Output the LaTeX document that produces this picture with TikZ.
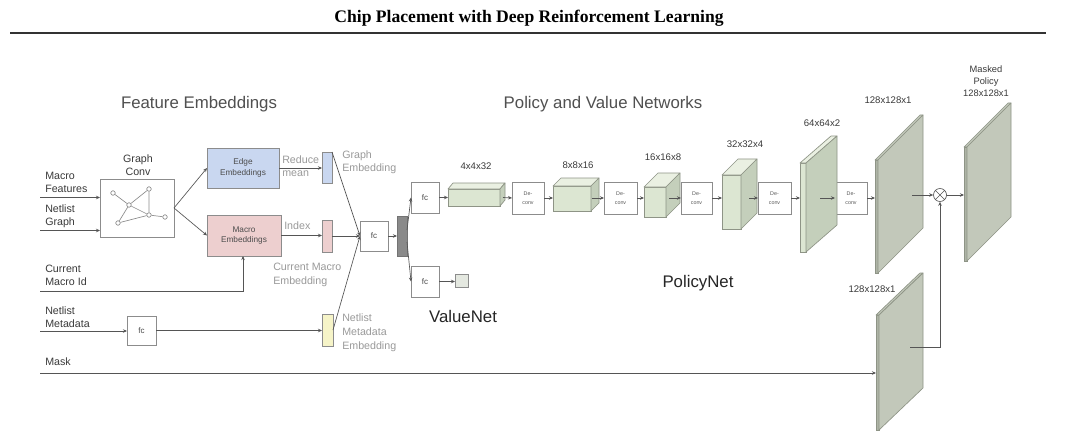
\documentclass[tikz,border=0pt]{standalone}
\usepackage{fontspec}
\setmainfont{Liberation Sans}
\newfontfamily\titlefont{Liberation Serif}
\usetikzlibrary{arrows.meta,calc}
\definecolor{boxc}{HTML}{8C8C8C}
\definecolor{linec}{HTML}{555555}
\definecolor{lblc}{HTML}{3A3A3A}
\definecolor{lightc}{HTML}{9A9A9A}
\definecolor{headc}{HTML}{505050}
\definecolor{edgeblue}{HTML}{C9D7F0}
\definecolor{macropink}{HTML}{EDCFCF}
\definecolor{metayellow}{HTML}{F6F4C8}
\definecolor{darkbar}{HTML}{8A8A8A}
\definecolor{prfront}{HTML}{DCE6D2}
\definecolor{prtop}{HTML}{EAF0E2}
\definecolor{prside}{HTML}{C4CFBB}
\definecolor{prborder}{HTML}{8E9486}
\definecolor{plside}{HTML}{C2C8BA}
\definecolor{plfront}{HTML}{AEB4A6}
\definecolor{vboxc}{HTML}{E4E8E0}
\tikzset{
  sz/.style 2 args={minimum width=#1*0.75pt, minimum height=#2*0.75pt},
  box/.style={draw=boxc, fill=white, line width=0.6pt, inner sep=0pt, outer sep=0pt, anchor=north west},
  bar/.style={draw=boxc, line width=0.5pt, inner sep=0pt, outer sep=0pt, anchor=north west},
  lbl/.style={inner sep=0pt, text=lblc, font=\fontsize{8}{9.75}\selectfont, align=left, anchor=north west},
  light/.style={lbl, text=lightc},
  head/.style={inner sep=0pt, text=headc, font=\fontsize{12.6}{15}\selectfont},
  net/.style={inner sep=0pt, text=black!85, font=\fontsize{12.6}{15}\selectfont},
  dim/.style={inner sep=0pt, text=lblc, font=\fontsize{7.2}{9}\selectfont, align=center},
  boxtxt/.style={font=\fontsize{6.2}{8.2}\selectfont, text=black!70, align=center},
  dctxt/.style={font=\fontsize{4}{6.5}\selectfont, text=black!65, align=center},
  fctxt/.style={font=\fontsize{6}{7}\selectfont, text=black!70},
  gnode/.style={circle, draw=boxc, fill=white, line width=0.5pt, inner sep=0pt, minimum size=4.5*0.75pt},
  gedge/.style={draw=boxc, line width=0.5pt},
  conn/.style={draw=linec, line width=0.5pt, -{Stealth[length=3pt,width=2.6pt]}},
  plain/.style={draw=linec, line width=0.5pt},
  prfrontst/.style={draw=prborder, fill=prfront, line width=0.5pt, inner sep=0pt, outer sep=0pt, anchor=north west},
  prtopst/.style={draw=prborder, fill=prtop, line width=0.5pt, line join=round},
  prsidest/.style={draw=prborder, fill=prside, line width=0.5pt, line join=round},
  plfrontst/.style={draw=prborder, fill=plfront, line width=0.5pt, inner sep=0pt, outer sep=0pt, anchor=north west},
  pltopst/.style={draw=prborder, fill=plside, line width=0.5pt, line join=round},
  plsidest/.style={draw=prborder, fill=plside, line width=0.5pt, line join=round},
}
% name, x, y, w, h, dx, dy
\newcommand\prismbox[7]{%
  \node[prfrontst, sz={#4}{#5}] (#1) at (#2,#3) {};
  \filldraw[prtopst] (#1.north west) -- ++(#6,#7) -- ++(#4,0) -- (#1.north east) -- cycle;
  \filldraw[prsidest] (#1.north east) -- ++(#6,#7) -- ++(0,#5) -- (#1.south east) -- cycle;
}
\newcommand\planebox[7]{%
  \node[plfrontst, sz={#4}{#5}] (#1) at (#2,#3) {};
  \filldraw[pltopst] (#1.north west) -- ++(#6,#7) -- ++(#4,0) -- (#1.north east) -- cycle;
  \filldraw[plsidest] (#1.north east) -- ++(#6,#7) -- ++(0,#5) -- (#1.south east) -- cycle;
}
\begin{document}
\begin{tikzpicture}[x=0.75pt,y=-0.75pt]
\useasboundingbox (0,0) rectangle (1066,442);
\fill[white] (0,0) rectangle (1066,442);

% title and rule
\node[inner sep=0pt, font=\titlefont\bfseries\fontsize{13.2}{15}\selectfont] (title) at (529,18) {Chip Placement with Deep Reinforcement Learning};
\coordinate (ruleL) at (10,33);
\coordinate (ruleR) at (1046,33);
\draw[line width=1.4pt, draw=black!80] (ruleL) -- (ruleR);

% headings
\node[head] (hfeat) at (199,104) {Feature Embeddings};
\node[head] (hpol) at (603,104) {Policy and Value Networks};
\node[net] (valnet) at (463,316) {ValueNet};
\node[net] (polnet) at (698,283) {PolicyNet};

% input labels
\node[lbl] (lmf) at (45,172) {Macro\\Features};
\node[lbl] (lng) at (45,205) {Netlist\\Graph};
\node[lbl] (lcm) at (45,265) {Current\\Macro Id};
\node[lbl] (lnm) at (45,307) {Netlist\\Metadata};
\node[lbl] (lmask) at (45,358) {Mask};
\coordinate (inMF) at (40,197.5);
\coordinate (inNG) at (40,230.5);
\coordinate (inCM) at (40,291);
\coordinate (inNM) at (40,331);
\coordinate (inMask) at (40,373);

% graph conv
\node[box, sz={74}{58}] (gconv) at (100,179) {};
\node[lbl, anchor=north, align=center] (lgc) at (138,155) {Graph\\Conv};
\node[gnode] (g1) at (113,193) {};
\node[gnode] (g2) at (149,189) {};
\node[gnode] (g3) at (129,205) {};
\node[gnode] (g4) at (149,215) {};
\node[gnode] (g5) at (165,217) {};
\node[gnode] (g6) at (118,223) {};
\draw[gedge] (g1) -- (g3) (g3) -- (g2) (g2) -- (g4) (g3) -- (g4) (g4) -- (g5) (g6) -- (g4) (g6) -- (g3);

% embeddings
\node[box, fill=edgeblue, sz={72}{40}] (edge) at (207,148) {};
\node[boxtxt] (ledge) at (edge.center) {Edge\\Embeddings};
\node[box, fill=macropink, sz={74}{41}] (macro) at (207,215) {};
\node[boxtxt] (lmacro) at (macro.center) {Macro\\Embeddings};

\node[bar, fill=edgeblue, sz={10}{31}] (gbar) at (322,152) {};
\node[bar, fill=macropink, sz={10}{32}] (pbar) at (322,220) {};
\node[bar, fill=metayellow, sz={11}{32}] (ybar) at (322,314) {};

\node[light] (lred) at (282,156) {Reduce\\mean};
\node[light] (lge) at (342,151) {Graph\\Embedding};
\node[light] (lidx) at (284,222) {Index};
\node[light, font=\fontsize{8}{10.5}\selectfont] (lcme) at (273,263) {Current Macro\\Embedding};
\node[light, font=\fontsize{8}{10.5}\selectfont] (lnme) at (342,314) {Netlist\\Metadata\\Embedding};

\node[box, sz={29}{29}] (fcm) at (127,316) {};
\node[fctxt] (lfcm) at (fcm.center) {fc};

% central fc and dark bar
\node[box, sz={28}{30}] (fcc) at (360,221) {};
\node[fctxt] (lfcc) at (fcc.center) {fc};
\node[bar, fill=darkbar, draw=black!55, sz={10}{40}] (dbar) at (397,216) {};

\node[box, sz={28}{31}] (fca) at (411,182) {};
\node[fctxt] (lfca) at (fca.center) {fc};
\node[box, sz={28}{31}] (fcb) at (411,266) {};
\node[fctxt] (lfcb) at (fcb.center) {fc};
\node[bar, fill=vboxc, sz={13}{13}] (vbox) at (455,274) {};

% deconv boxes
\node[box, sz={32}{32}] (d1) at (512,182) {};
\node[dctxt] (ld1) at (d1.center) {De-\\conv};
\node[box, sz={33}{32}] (d2) at (604,182) {};
\node[dctxt] (ld2) at (d2.center) {De-\\conv};
\node[box, sz={31}{32}] (d3) at (681,182) {};
\node[dctxt] (ld3) at (d3.center) {De-\\conv};
\node[box, sz={33}{32}] (d4) at (758,182) {};
\node[dctxt] (ld4) at (d4.center) {De-\\conv};
\node[box, sz={32}{32}] (d5) at (835,182) {};
\node[dctxt] (ld5) at (d5.center) {De-\\conv};

% prisms
\prismbox{pr1}{448}{189}{52}{17}{5}{-6}
\prismbox{pr2}{553}{186}{38}{25}{8}{-8}
\prismbox{pr3}{644}{187}{22}{30}{14}{-14}
\prismbox{pr4}{722}{175}{19}{54}{16}{-16}
\prismbox{pr5}{800}{163}{6}{89}{31}{-27}
\planebox{pl1}{875}{160}{3}{113}{45}{-45}
\planebox{pl2}{964}{147}{3}{114}{44}{-44}
\planebox{pl3}{876}{315}{3}{115}{44}{-42}

\node[dim] (dim1) at (476,166) {4x4x32};
\node[dim] (dim2) at (578,165) {8x8x16};
\node[dim] (dim3) at (663,157) {16x16x8};
\node[dim] (dim4) at (745,144) {32x32x4};
\node[dim] (dim5) at (822,123) {64x64x2};
\node[dim] (dim6) at (888,100) {128x128x1};
\node[dim, font=\fontsize{7}{9}\selectfont] (dim7) at (986,81) {Masked\\Policy\\128x128x1};
\node[dim] (dim8) at (872,289) {128x128x1};

% multiply
\node[circle, draw=linec, fill=white, line width=0.5pt, minimum size=13*0.75pt, inner sep=0pt] (ot) at (940,195) {};
\draw[plain] (ot.north west) -- (ot.south east) (ot.north east) -- (ot.south west);

% connectors: inputs
\draw[conn] (inMF) -- (inMF -| gconv.west);
\draw[conn] (inNG) -- (inNG -| gconv.west);
\draw[conn] (inCM) -| (macro.south -| 243,0);
\draw[conn] (inNM) -- (inNM -| fcm.west);
\draw[conn] (inMask) -- (inMask -| pl3.west);

\coordinate (gcout) at (174,208);
\draw[conn] (gcout) -- (edge.west);
\draw[conn] (gcout) -- (macro.west);
\draw[conn] (edge.east) -- (edge.east -| gbar.west);
\draw[conn] (macro.east) -- (macro.east -| pbar.west);
\draw[conn] (fcm.east) -- (fcm.east -| ybar.west);

\draw[conn] (gbar.north east) -- (fcc.west);
\draw[conn] (pbar.east) -- (fcc.west);
\draw[conn] (ybar.east) -- (fcc.west);
\draw[conn] (fcc.east) -- (dbar.west);
\draw[conn] ($(dbar.east)+(0,-6)$) -- (fca.west);
\draw[conn] ($(dbar.east)+(0,6)$) -- (fcb.west);
\draw[conn] (fcb.east) -- (fcb.east -| vbox.west);

% policy chain
\draw[conn] (fca.east) -- (fca.east -| pr1.west);
\draw[conn] ($(pr1.east)+(3,0)$) -- (d1.west);
\draw[conn] (d1.east) -- (d1.east -| pr2.west);
\draw[conn] ($(d2.west)+(-12,0)$) -- (d2.west);
\draw[conn] (d2.east) -- (d2.east -| pr3.west);
\draw[conn] ($(d3.west)+(-12,0)$) -- (d3.west);
\draw[conn] (d3.east) -- (d3.east -| pr4.west);
\draw[conn] ($(d4.west)+(-9,0)$) -- (d4.west);
\draw[conn] (d4.east) -- (d4.east -| pr5.west);
\draw[conn] ($(d5.west)+(-15,0)$) -- (d5.west);
\draw[conn] (d5.east) -- (d5.east -| pl1.west);

\coordinate (pl1out) at (912,195);
\draw[conn] (pl1out) -- (ot.west);
\draw[conn] (ot.east) -- (ot.east -| pl2.west);
\coordinate (pl3out) at (910,347);
\draw[conn] (pl3out) -| (ot.south);
\end{tikzpicture}
\end{document}
